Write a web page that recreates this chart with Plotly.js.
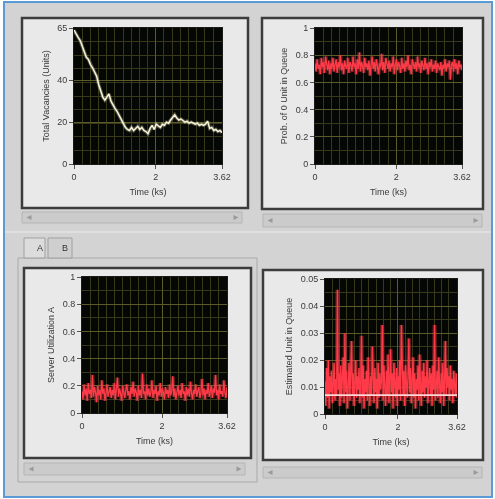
<!DOCTYPE html>
<html>
<head>
<meta charset="utf-8">
<script src="https://cdn.plot.ly/plotly-3.0.1.min.js"></script>
<style>
html,body{margin:0;padding:0;background:#ffffff;}
#chart{width:495px;height:499px;filter:blur(0.5px);}
</style>
</head>
<body>
<div id="chart"></div>
<script>
// ---------------- DATA ----------------
const timeMax = 3.62;
const timeTickVals = [0, 2, 3.62];
const timeTickText = ['0', '2', '3.62'];

// Panel 1: Total Vacancies (Units)
const vacancies = [64,62,60.5,59,56,53.5,51,50,47.5,46,44,42,38,35,32,30.5,32,33.5,30,28,
  26.5,25,23,21,19,17.5,16.5,16,17.5,16,17,18,16.5,17.5,16,15.5,14.5,17,18.5,16.5,
  19,18,17.5,19,18.5,20,19.5,21,22.5,23.5,22,21,21.5,20.5,20,20.5,19.5,20,19.5,19,
  19.5,18.5,19,18.5,19,20.5,17,17.5,16,16.5,15.5,16,15];
const vacancyTicks = [0, 20, 40, 65];

// Panel 2: Prob. of 0 Unit in Queue
const probZero = [0.74,0.68,0.77,0.70,0.73,0.66,0.78,0.71,0.75,0.67,0.79,0.72,0.69,0.76,0.66,0.74,0.70,0.78,0.68,0.73,
  0.77,0.67,0.75,0.71,0.80,0.69,0.74,0.66,0.76,0.72,0.70,0.78,0.67,0.75,0.73,0.68,0.79,0.71,0.74,0.66,
  0.77,0.70,0.82,0.68,0.75,0.72,0.67,0.78,0.71,0.74,0.69,0.76,0.65,0.73,0.79,0.70,0.75,0.68,0.77,0.72,
  0.66,0.74,0.71,0.81,0.69,0.75,0.67,0.78,0.72,0.70,0.76,0.68,0.74,0.71,0.79,0.66,0.73,0.77,0.69,0.75,
  0.72,0.67,0.78,0.70,0.74,0.68,0.76,0.71,0.80,0.69,0.73,0.66,0.77,0.72,0.70,0.75,0.68,0.79,0.71,0.74,
  0.67,0.76,0.72,0.69,0.78,0.70,0.74,0.66,0.75,0.71,0.77,0.68,0.73,0.70,0.76,0.67,0.74,0.72,0.69,0.75,
  0.65,0.73,0.70,0.77,0.68,0.74,0.71,0.76,0.62,0.73,0.75,0.68,0.77,0.70,0.74,0.66,0.76,0.71,0.73,0.69];
const probTicks = [0, 0.2, 0.4, 0.6, 0.8, 1];
const probTickText = ['0', '0.2', '0.4', '0.6', '0.8', '1'];

// Panel 3: Server Utilization A
const serverUtil = [0.16,0.10,0.21,0.13,0.18,0.09,0.22,0.14,0.17,0.11,0.28,0.12,0.19,0.15,0.08,0.20,0.13,0.17,0.10,0.24,
  0.14,0.18,0.09,0.16,0.21,0.12,0.15,0.19,0.11,0.17,0.13,0.22,0.10,0.16,0.26,0.12,0.18,0.14,0.09,0.20,
  0.15,0.11,0.17,0.21,0.13,0.16,0.10,0.19,0.14,0.23,0.12,0.18,0.15,0.09,0.20,0.13,0.17,0.11,0.29,0.14,
  0.16,0.10,0.21,0.13,0.18,0.12,0.15,0.24,0.11,0.17,0.14,0.20,0.09,0.16,0.13,0.22,0.12,0.18,0.15,0.10,
  0.19,0.14,0.17,0.11,0.21,0.13,0.16,0.27,0.12,0.18,0.10,0.15,0.20,0.13,0.17,0.11,0.22,0.14,0.16,0.09,
  0.19,0.13,0.18,0.12,0.23,0.15,0.10,0.17,0.14,0.21,0.12,0.16,0.19,0.11,0.15,0.25,0.13,0.18,0.10,0.17,
  0.14,0.22,0.12,0.16,0.20,0.11,0.18,0.15,0.28,0.13,0.17,0.10,0.21,0.14,0.16,0.12,0.24,0.15,0.11,0.19];

// Panel 4: Estimated Unit in Queue
const queueEst = [0.012,0.003,0.017,0.006,0.020,0.002,0.014,0.008,0.016,0.004,
  0.011,0.019,0.005,0.013,0.007,0.046,0.009,0.015,0.003,0.018,
  0.006,0.014,0.021,0.004,0.030,0.008,0.016,0.002,0.012,0.019,
  0.005,0.013,0.027,0.007,0.015,0.003,0.011,0.020,0.006,0.014,
  0.009,0.017,0.004,0.012,0.029,0.006,0.018,0.002,0.013,0.008,
  0.016,0.005,0.021,0.010,0.003,0.014,0.007,0.025,0.011,0.004,
  0.017,0.008,0.013,0.002,0.019,0.006,0.015,0.009,0.012,0.033,
  0.005,0.018,0.010,0.003,0.016,0.007,0.022,0.004,0.013,0.024,
  0.008,0.015,0.002,0.019,0.011,0.006,0.017,0.003,0.014,0.009,
  0.020,0.005,0.033,0.012,0.007,0.016,0.003,0.018,0.010,0.006,
  0.014,0.028,0.008,0.017,0.004,0.012,0.021,0.006,0.015,0.002,
  0.013,0.009,0.018,0.005,0.022,0.011,0.003,0.016,0.008,0.019,
  0.006,0.014,0.010,0.020,0.004,0.012,0.017,0.007,0.015,0.003,
  0.018,0.009,0.033,0.005,0.013,0.016,0.006,0.021,0.011,0.004,
  0.015,0.008,0.019,0.003,0.012,0.027,0.007,0.017,0.010,0.014,
  0.005,0.018,0.009,0.013,0.004,0.016,0.011,0.007,0.015,0.006];
const queueMean = [0.007, 0.007];
const queueMeanTime = [0, 3.62];
const queueTicks = [0, 0.01, 0.02, 0.03, 0.04, 0.05];
const queueTickText = ['0', '0.01', '0.02', '0.03', '0.04', '0.05'];

// sample times (uniform sampling over the run)
function timesFor(arr){ return arr.map((_, i) => i * timeMax / (arr.length - 1)); }

// ---------------- LAYOUT HELPERS ----------------
const W = 495, H = 499;
const px = x => x / W;
const py = y => 1 - y / H;
function rect(x0, y0, x1, y1, fill, lineColor, lw){
  return {type:'rect', xref:'paper', yref:'paper', layer:'below',
    x0:px(x0), x1:px(x1), y0:py(y1), y1:py(y0),
    fillcolor:fill, line:{color:lineColor || 'rgba(0,0,0,0)', width: lw || 0}};
}
function seg(x0, y0, x1, y1, color, w){
  return {type:'line', xref:'paper', yref:'paper', layer:'below',
    x0:px(x0), x1:px(x1), y0:py(y0), y1:py(y1), line:{color:color, width:w||1}};
}
function tri(x, y, dir){
  const s = 2.5;
  const p = dir < 0
    ? `M${px(x+s)},${py(y-s)} L${px(x-s)},${py(y)} L${px(x+s)},${py(y+s)} Z`
    : `M${px(x-s)},${py(y-s)} L${px(x+s)},${py(y)} L${px(x-s)},${py(y+s)} Z`;
  return {type:'path', xref:'paper', yref:'paper', layer:'below', path:p,
    fillcolor:'#9a9a9a', line:{width:0}};
}

const tickFont = {family:'Liberation Sans, Arial, sans-serif', size:9, color:'#3a3a3a'};
const titleFont = {family:'Liberation Sans, Arial, sans-serif', size:9, color:'#3a3a3a'};
const majorGrid = '#5c5c2a';
const minorGrid = '#38381b';

function xAxis(x0, x1, y0, y1, anchor){
  return {domain:[px(x0), px(x1)], anchor:anchor, range:[0, timeMax],
    tickmode:'array', tickvals:timeTickVals, ticktext:timeTickText,
    ticks:'outside', ticklen:4, tickcolor:'#555', tickfont:tickFont,
    showgrid:true, gridcolor:majorGrid, gridwidth:1,
    minor:{tickmode:'linear', tick0:0, dtick:0.2, showgrid:true, gridcolor:minorGrid, gridwidth:1, ticks:''},
    zeroline:false, showline:true, linecolor:'#1a1a1a', linewidth:1, mirror:true,
    title:{text:'Time (ks)', font:titleFont, standoff:7}};
}
function yAxis(y0, y1, anchor, range, tv, tt, minorDt, title){
  return {domain:[py(y1), py(y0)], anchor:anchor, range:range,
    tickmode:'array', tickvals:tv, ticktext:tt,
    ticks:'outside', ticklen:4, tickcolor:'#555', tickfont:tickFont,
    showgrid:true, gridcolor:majorGrid, gridwidth:1,
    minor:{tickmode:'linear', tick0:0, dtick:minorDt, showgrid:true, gridcolor:minorGrid, gridwidth:1, ticks:''},
    zeroline:false, showline:true, linecolor:'#1a1a1a', linewidth:1, mirror:true,
    title:{text:title, font:titleFont, standoff:6}};
}

// plot areas (pixels)
const A1 = [74, 28, 222, 164];
const A2 = [315, 28, 462, 164];
const A3 = [82, 277, 227, 413];
const A4 = [325, 279, 457, 414];

// ---------------- TRACES ----------------
const red = '#ff3a48';
const traces = [
  {x:timesFor(vacancies), y:vacancies, type:'scatter', mode:'lines', xaxis:'x', yaxis:'y',
   line:{color:'rgba(240,235,200,0.3)', width:3.5}, hoverinfo:'skip'},
  {x:timesFor(vacancies), y:vacancies, type:'scatter', mode:'lines', xaxis:'x', yaxis:'y',
   line:{color:'#f6f2d8', width:1.5}},
  {x:timesFor(probZero), y:probZero, type:'scatter', mode:'lines', xaxis:'x2', yaxis:'y2',
   line:{color:'rgba(255,70,80,0.35)', width:4}, hoverinfo:'skip'},
  {x:timesFor(probZero), y:probZero, type:'scatter', mode:'lines', xaxis:'x2', yaxis:'y2',
   line:{color:red, width:1.3}},
  {x:timesFor(serverUtil), y:serverUtil, type:'scatter', mode:'lines', xaxis:'x3', yaxis:'y3',
   line:{color:'rgba(255,70,80,0.35)', width:4}, hoverinfo:'skip'},
  {x:timesFor(serverUtil), y:serverUtil, type:'scatter', mode:'lines', xaxis:'x3', yaxis:'y3',
   line:{color:red, width:1.3}},
  {x:timesFor(queueEst), y:queueEst, type:'scatter', mode:'lines', xaxis:'x4', yaxis:'y4',
   line:{color:'rgba(255,60,70,0.4)', width:4}, hoverinfo:'skip'},
  {x:timesFor(queueEst), y:queueEst, type:'scatter', mode:'lines', xaxis:'x4', yaxis:'y4',
   line:{color:red, width:1.3}},
  {x:queueMeanTime, y:queueMean, type:'scatter', mode:'lines', xaxis:'x4', yaxis:'y4',
   line:{color:'#ffd6d6', width:1.6}}
];

// ---------------- FRAME SHAPES ----------------
const plotBg = '#050704';
const shapes = [
  // window background with blue border
  rect(4, 2, 492, 497, '#d3d3d3', '#5b9bd5', 2),
  // tab control
  seg(5, 232, 491, 232, '#ececec', 1),
  rect(18, 258, 257, 482, 'rgba(0,0,0,0)', '#a9a9a9', 1),
  rect(24, 238, 45, 258, '#dcdcdc', '#a0a0a0', 1),
  rect(48, 238, 72, 258, '#cfcfcf', '#a0a0a0', 1),
  // frames
  rect(22, 18, 248, 208, '#e9e9e9', '#3c3c3c', 2.5),
  rect(262, 18, 483, 209, '#e9e9e9', '#3c3c3c', 2.5),
  rect(24, 268, 251, 458, '#e9e9e9', '#3c3c3c', 2.5),
  rect(263, 270, 483, 460, '#e9e9e9', '#3c3c3c', 2.5),
  // dark plot backgrounds
  rect(A1[0], A1[1], A1[2], A1[3], plotBg),
  rect(A2[0], A2[1], A2[2], A2[3], plotBg),
  rect(A3[0], A3[1], A3[2], A3[3], plotBg),
  rect(A4[0], A4[1], A4[2], A4[3], plotBg),
  // scrollbars
  rect(22, 212, 242, 223, '#cbcbcb', '#b5b5b5', 1),
  rect(263, 214, 482, 227, '#cbcbcb', '#b5b5b5', 1),
  rect(24, 463, 245, 475, '#cbcbcb', '#b5b5b5', 1),
  rect(263, 467, 482, 478, '#cbcbcb', '#b5b5b5', 1),
  tri(29, 217.5, -1), tri(236, 217.5, 1),
  tri(270, 220.5, -1), tri(476, 220.5, 1),
  tri(31, 469, -1), tri(239, 469, 1),
  tri(270, 472.5, -1), tri(476, 472.5, 1)
];

const annotations = [
  {text:'A', x:px(34.5), y:py(248), xref:'paper', yref:'paper', showarrow:false,
   font:{family:'Liberation Sans, Arial, sans-serif', size:9, color:'#333'}},
  {text:'B', x:px(60), y:py(248), xref:'paper', yref:'paper', showarrow:false,
   font:{family:'Liberation Sans, Arial, sans-serif', size:9, color:'#333'}}
];

const layout = {
  width:W, height:H, margin:{l:0, r:0, t:0, b:0},
  paper_bgcolor:'#ffffff', plot_bgcolor:plotBg, showlegend:false,
  xaxis: xAxis(A1[0], A1[2], A1[1], A1[3], 'y'),
  yaxis: yAxis(A1[1], A1[3], 'x', [0, 65], vacancyTicks, vacancyTicks.map(String), 6.5, 'Total Vacancies (Units)'),
  xaxis2: xAxis(A2[0], A2[2], A2[1], A2[3], 'y2'),
  yaxis2: yAxis(A2[1], A2[3], 'x2', [0, 1], probTicks, probTickText, 0.1, 'Prob. of 0 Unit in Queue'),
  xaxis3: xAxis(A3[0], A3[2], A3[1], A3[3], 'y3'),
  yaxis3: yAxis(A3[1], A3[3], 'x3', [0, 1], probTicks, probTickText, 0.1, 'Server Utilization A'),
  xaxis4: xAxis(A4[0], A4[2], A4[1], A4[3], 'y4'),
  yaxis4: yAxis(A4[1], A4[3], 'x4', [0, 0.05], queueTicks, queueTickText, 0.005, 'Estimated Unit in Queue'),
  shapes: shapes,
  annotations: annotations
};

Plotly.newPlot('chart', traces, layout, {displayModeBar:false, staticPlot:true});
</script>
</body>
</html>
